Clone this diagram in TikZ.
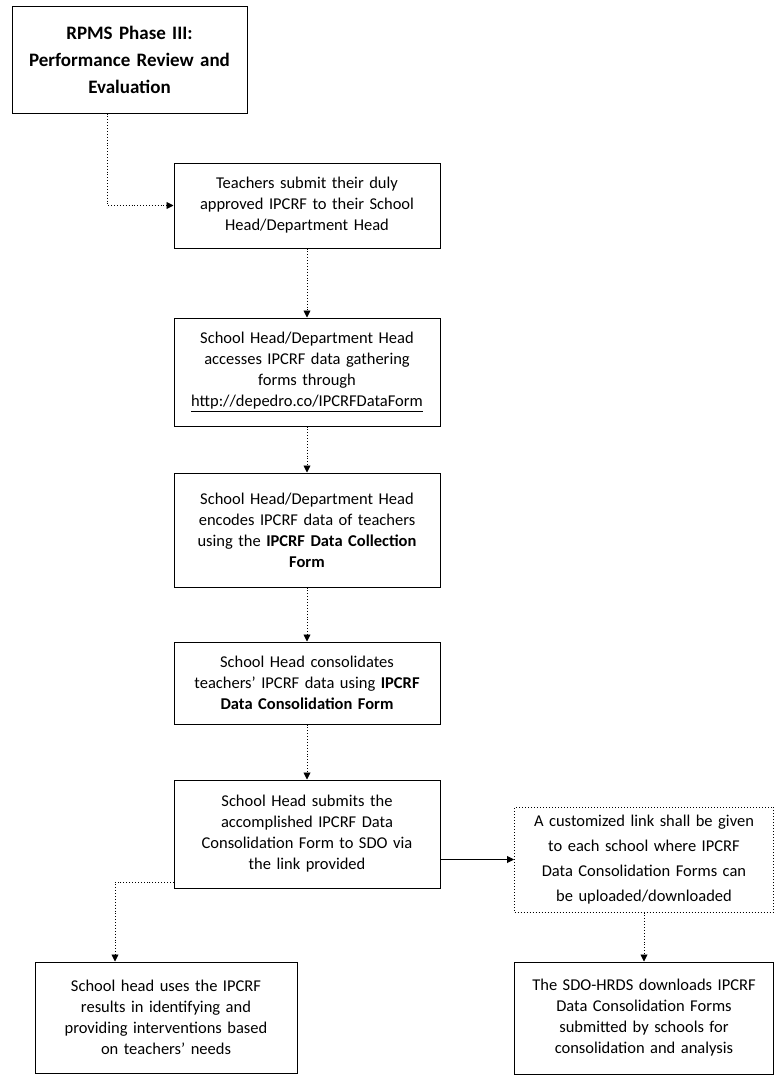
\documentclass[tikz,border=0pt]{standalone}
\usepackage{fontspec}
\setmainfont{Carlito}
\usetikzlibrary{arrows.meta}
\tikzset{
  box/.style={draw=black, line width=1pt, align=center, inner sep=2pt,
    font=\fontsize{16.5}{21}\selectfont, text width=#1},
  box/.default={255pt},
  conn/.style={draw=black, line width=0.9pt, dotted, -{Triangle[length=7pt,width=7pt]}},
  connsolid/.style={draw=black, line width=0.9pt, -{Triangle[length=7pt,width=7pt]}}
}
\begin{document}
\begin{tikzpicture}[x=1pt,y=-1pt]
\useasboundingbox (0,0) rectangle (775,1076);
\node[box=225pt, minimum width=235pt, minimum height=107pt, font=\fontsize{19}{27}\selectfont\bfseries] (b1) at (129.5,59.5)
  {RPMS Phase III:\\Performance Review and\\Evaluation};
\node[box, minimum width=266pt, minimum height=85pt] (b2) at (307,205.5)
  {Teachers submit their duly\\approved IPCRF to their School\\Head/Department Head};
\node[box, minimum width=266pt, minimum height=108pt] (b3) at (307,372)
  {School Head/Department Head\\accesses IPCRF data gathering\\forms through\\\underline{http://depedro.co/IPCRFDataForm}};
\node[box, minimum width=266pt, minimum height=114pt] (b4) at (307,530)
  {School Head/Department Head\\encodes IPCRF data of teachers\\using the \textbf{IPCRF Data Collection}\\\textbf{Form}};
\node[box, minimum width=266pt, minimum height=82pt] (b5) at (307,683)
  {School Head consolidates\\teachers' IPCRF data using \textbf{IPCRF}\\\textbf{Data Consolidation Form}};
\node[box, minimum width=266pt, minimum height=108pt] (b6) at (307,834)
  {School Head submits the\\accomplished IPCRF Data\\Consolidation Form to SDO via\\the link provided};
\node[box, dotted, minimum width=258pt, minimum height=105pt, font=\fontsize{16.5}{25}\selectfont] (b7) at (644,859.5)
  {A customized link shall be given\\to each school where IPCRF\\Data Consolidation Forms can\\be uploaded/downloaded};
\node[box, minimum width=258pt, minimum height=112pt] (b8) at (644,1018)
  {The SDO-HRDS downloads IPCRF\\Data Consolidation Forms\\submitted by schools for\\consolidation and analysis};
\node[box, minimum width=262pt, minimum height=111pt] (b9) at (166,1017.5)
  {School head uses the IPCRF\\results in identifying and\\providing interventions based\\on teachers' needs};
\draw[conn] ([xshift=-22pt]b1.south) |- (b2.west);
\draw[conn] (b2.south) -- (b3.north);
\draw[conn] (b3.south) -- (b4.north);
\draw[conn] (b4.south) -- (b5.north);
\draw[conn] (b5.south) -- (b6.north);
\draw[connsolid] (b6.east |- b7.west) -- (b7.west);
\draw[conn] (b7.south) -- (b7.south |- b8.north);
\draw[conn] ([yshift=-48pt]b6.west) -| ([xshift=-51pt]b9.north);
\end{tikzpicture}
\end{document}
